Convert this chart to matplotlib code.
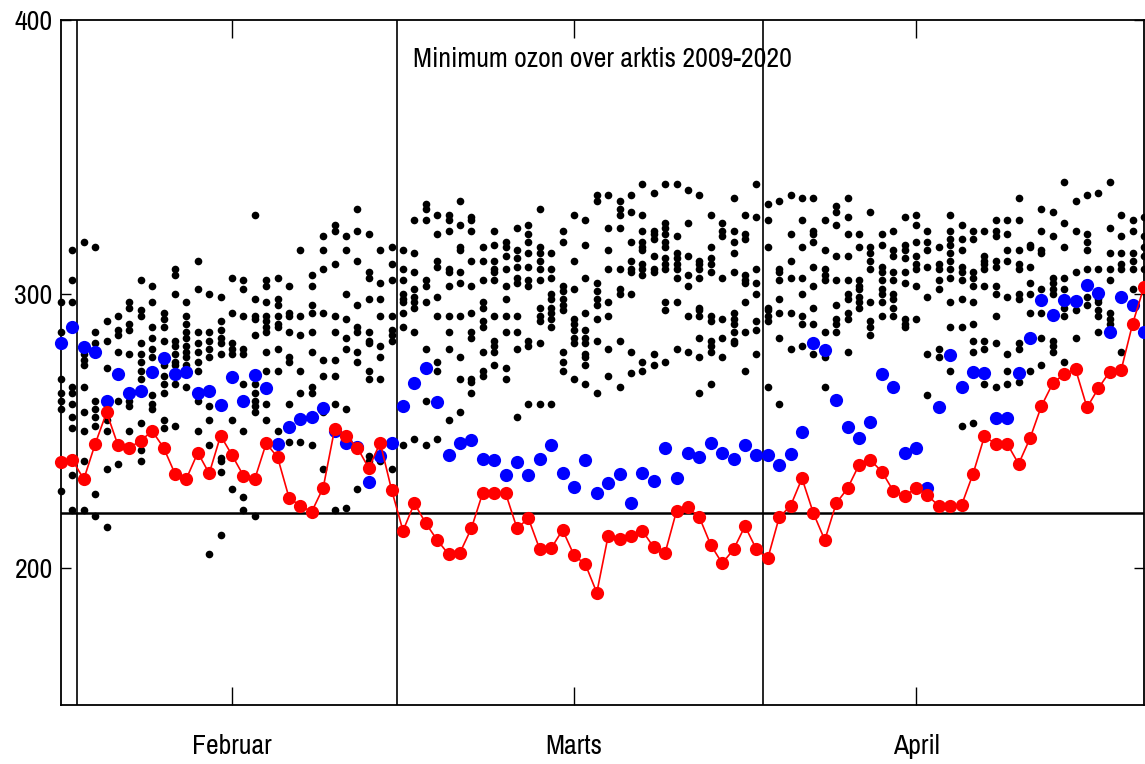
import matplotlib
matplotlib.use('Agg')
import matplotlib.pyplot as plt
from matplotlib import font_manager
import numpy as np

# pick a narrow face if one is installed (the labels in the original are squeezed)
fonts = font_manager.fontManager.ttflist
narrow = [f.name for f in fonts if 'Narrow' in f.name or 'Condensed' in f.name]
condensed_dejavu = any(f.name == 'DejaVu Sans' and f.stretch in ('condensed', 'semi-condensed')
                       for f in fonts)

# day index (0 = first day shown, ca. end of January)
days = np.arange(96)

# the two highlighted years
red_vals = [238.6, 239.4, 232.4, 245.3, 256.8, 244.8, 243.9, 246.5, 250.0, 243.9,
            234.4, 232.6, 242.1, 234.5, 248.3, 241.2, 233.7, 232.5, 245.5, 240.4,
            225.7, 222.6, 220.6, 229.3, 250.7, 248.3, 243.9, 236.4, 245.7, 228.5,
            213.6, 223.6, 216.3, 210.2, 205.0, 205.6, 214.5, 227.5, 227.5, 227.3,
            214.5, 218.1, 206.8, 207.2, 213.9, 204.7, 201.3, 191.0, 211.8, 210.5,
            211.8, 213.6, 207.5, 205.6, 220.9, 222.1, 218.5, 208.4, 201.7, 206.8,
            215.3, 206.8, 203.5, 218.5, 222.7, 232.7, 220.0, 210.2, 223.6, 229.1,
            237.6, 239.4, 235.2, 228.2, 226.3, 229.1, 226.6, 222.6, 222.6, 223.0,
            234.3, 248.0, 245.3, 245.3, 238.0, 247.3, 259.1, 267.4, 270.8, 272.5,
            258.6, 265.6, 271.7, 272.3, 289.1, 302.7]

blue_vals = [282.0, 288.0, 280.5, 279.0, 261.0, 270.8, 264.0, 264.6, 271.5, 276.8,
             270.8, 271.7, 264.0, 264.7, 259.5, 269.6, 261.0, 270.4, 265.6, 245.1,
             251.6, 254.3, 255.2, 258.3, 250.0, 245.7, 244.0, 231.5, 240.9, 245.5,
             259.2, 267.4, 273.1, 260.5, 241.2, 245.5, 246.7, 239.7, 239.4, 233.9,
             238.8, 233.9, 239.7, 244.9, 234.5, 229.4, 239.4, 227.5, 231.1, 234.3,
             223.6, 234.5, 231.9, 243.9, 232.7, 242.1, 240.4, 245.5, 242.1, 239.7,
             244.9, 241.2, 241.2, 237.6, 241.6, 249.8, 282.2, 279.6, 261.3, 251.6,
             247.3, 253.4, 270.8, 266.2, 242.1, 243.9, 229.1, 258.6, 277.7, 266.2,
             271.7, 271.0, 254.6, 254.6, 271.0, 283.8, 297.8, 292.3, 297.8, 297.4,
             303.3, 300.2, 286.0, 299.0, 296.0, 286.3]

# the other years, one list per day
other_years = [
    [297, 286, 269, 264, 261, 258, 228],
    [316, 305, 297, 266, 264, 260, 255, 251, 234, 221],
    [319, 278, 276, 274, 266, 257, 250, 239, 221],
    [317, 286, 282, 261, 258, 255, 252, 227, 219],
    [290, 283, 273, 254, 250, 236, 215],
    [292, 287, 285, 279, 261, 238],
    [297, 295, 289, 287, 278, 261, 259, 250],
    [305, 294, 292, 282, 278, 275, 272, 269, 253, 247, 243, 239],
    [303, 297, 288, 284, 280, 277, 263, 260, 258],
    [293, 291, 288, 283, 274, 270, 267, 264, 254, 251],
    [309, 307, 300, 283, 281, 278, 275, 274, 267, 252],
    [297, 292, 289, 286, 284, 281, 279, 277, 274, 266],
    [312, 302, 286, 282, 279, 275, 272, 261, 250],
    [300, 286, 283, 280, 277, 259, 254, 245, 205],
    [299, 290, 287, 284, 282, 278, 240, 239, 235, 212],
    [306, 293, 282, 280, 278, 254, 229],
    [305, 302, 292, 280, 278, 267, 250, 226, 221],
    [329, 298, 292, 291, 285, 267, 264, 261, 259, 257, 219],
    [305, 303, 297, 292, 290, 288, 286, 279, 272, 260, 254],
    [306, 298, 296, 292, 289, 288, 280, 272, 250],
    [303, 293, 292, 286, 277, 275, 260, 246],
    [316, 292, 285, 272, 264, 246],
    [307, 303, 296, 293, 286, 279, 266, 264, 245],
    [321, 316, 309, 293, 276, 270, 257, 236],
    [325, 323, 311, 292, 286, 276, 270, 260, 221],
    [321, 316, 300, 291, 284, 280, 258, 222],
    [331, 323, 312, 296, 288, 286, 279, 275, 229],
    [322, 308, 306, 298, 286, 283, 282, 272, 269, 241, 239],
    [316, 304, 298, 292, 281, 277, 269, 239],
    [317, 311, 305, 292, 287, 285, 283, 236],
    [316, 309, 305, 300, 298, 297, 293, 288, 245],
    [327, 315, 308, 302, 299, 297, 295, 286, 247],
    [333, 331, 327, 305, 303, 297, 280, 261, 245],
    [329, 322, 312, 310, 299, 292, 275, 272, 247],
    [329, 327, 323, 309, 308, 303, 292, 286, 280, 254],
    [334, 325, 317, 316, 308, 304, 292, 277, 269, 257],
    [328, 327, 323, 312, 303, 293, 286, 284, 269, 268, 264],
    [317, 312, 305, 297, 295, 290, 288, 279, 272, 270],
    [323, 318, 312, 309, 308, 305, 292, 283, 281, 279, 274],
    [319, 317, 314, 309, 303, 298, 292, 286, 273, 269],
    [324, 316, 313, 310, 306, 304, 292, 286, 280, 255],
    [325, 322, 319, 315, 310, 305, 303, 283, 281, 260],
    [331, 317, 315, 312, 309, 305, 295, 292, 290, 282, 260],
    [315, 309, 306, 300, 298, 295, 293, 291, 288, 260],
    [323, 319, 303, 301, 298, 296, 294, 279, 275, 272],
    [329, 312, 302, 291, 289, 287, 284, 282, 269],
    [327, 318, 306, 293, 287, 284, 282, 278, 277, 274, 267],
    [336, 334, 304, 301, 298, 296, 291, 283, 264],
    [336, 324, 316, 309, 297, 292, 280, 270],
    [334, 331, 329, 324, 309, 302, 300, 283, 266],
    [336, 330, 319, 312, 309, 308, 300, 279, 271],
    [340, 329, 323, 319, 317, 316, 311, 309, 307, 275, 272],
    [337, 323, 322, 320, 314, 309, 308, 278, 274],
    [340, 326, 324, 322, 319, 317, 313, 311, 309, 297, 294, 275],
    [340, 321, 315, 313, 311, 309, 306, 297, 280],
    [338, 326, 314, 307, 303, 292, 279],
    [336, 312, 311, 309, 306, 295, 294, 292, 284, 277, 264],
    [329, 317, 313, 311, 308, 292, 290, 283, 281, 279, 267],
    [326, 323, 321, 306, 291, 284, 277],
    [335, 323, 319, 315, 308, 293, 291, 289, 286, 283, 282],
    [329, 322, 320, 307, 305, 304, 297, 286, 272],
    [340, 328, 309, 304, 300, 290, 287, 278],
    [333, 327, 317, 295, 294, 292, 290, 266],
    [334, 309, 308, 305, 298, 293, 284, 260],
    [336, 322, 312, 306, 293, 280],
    [335, 327, 317, 306, 300, 292, 289, 281],
    [335, 323, 322, 319, 310, 303, 295, 289, 278],
    [327, 316, 309, 307, 305, 286, 277, 266],
    [332, 330, 325, 314, 305, 296, 291, 289, 286],
    [335, 328, 322, 314, 305, 300, 298, 293, 291, 279],
    [322, 317, 305, 303, 302, 299, 297, 295],
    [330, 317, 315, 312, 309, 297, 290, 288, 285],
    [322, 318, 310, 308, 305, 302, 300, 297, 292],
    [323, 316, 314, 308, 305, 300, 298, 295, 292],
    [328, 318, 316, 313, 308, 304, 291, 289, 288],
    [329, 325, 319, 314, 311, 309, 303, 291],
    [323, 319, 316, 310, 299, 278, 263],
    [317, 311, 309, 305, 302, 280, 277],
    [329, 323, 320, 318, 315, 312, 309, 306, 297, 288, 272],
    [325, 320, 316, 310, 308, 305, 298, 288, 252],
    [323, 320, 308, 306, 303, 297, 289, 283, 279, 253],
    [323, 314, 312, 311, 309, 303, 283, 280, 267],
    [327, 323, 321, 312, 310, 303, 300, 292, 282, 266],
    [327, 322, 316, 312, 299, 278, 272, 267],
    [335, 327, 316, 311, 309, 300, 298, 282, 280, 268],
    [318, 317, 310, 304, 300, 293, 272],
    [331, 323, 316, 315, 302, 293, 284, 274],
    [330, 321, 306, 304, 302, 300, 283, 281, 279],
    [341, 326, 317, 306, 302, 295, 292, 275],
    [334, 323, 308, 297, 294, 284],
    [336, 322, 319, 316, 309, 299, 296],
    [337, 309, 298, 297, 294, 292, 286],
    [341, 324, 315, 309, 305, 293, 291, 289],
    [329, 321, 315, 311, 309, 298, 279],
    [327, 323, 315, 312, 309, 302],
    [328, 321, 317, 314, 309],
]

month_ticks = [15, 45, 75]
month_labels = ['Februar', 'Marts', 'April']
month_lines = [1.4, 29.5, 61.6]
ref_level = 220

if narrow:
    plt.rcParams['font.family'] = [narrow[0], 'DejaVu Sans']
    fsize = 20
elif condensed_dejavu:
    plt.rcParams['font.family'] = ['DejaVu Sans']
    plt.rcParams['font.stretch'] = 'condensed'
    fsize = 17
else:
    plt.rcParams['font.family'] = ['DejaVu Sans']
    fsize = 15


fig = plt.figure(figsize=(11.45, 7.64), dpi=100)
ax = fig.add_axes([61 / 1145, 59 / 764, 1083 / 1145, 685 / 764])

# all other years as small black dots
xs = np.concatenate([[d] * len(v) for d, v in zip(days, other_years)])
ys = np.concatenate(other_years)
ax.plot(xs, ys, 'o', color='black', ms=5.5, mew=0, clip_on=False, zorder=3)

ax.plot(days, blue_vals, 'o', color='blue', ms=9.5, mew=0, clip_on=False, zorder=4)
ax.plot(days, red_vals, '-o', color='red', lw=1.2, ms=9.5, mew=0, clip_on=False, zorder=5)

ax.axhline(ref_level, color='black', lw=1.8, zorder=2)
for m in month_lines:
    ax.axvline(m, color='black', lw=1.2, zorder=2)

ax.set_xlim(0, 95)
ax.set_ylim(150, 400)
ax.set_xticks(month_ticks)
ax.set_xticklabels(month_labels)
ax.set_yticks([200, 300, 400])
ax.tick_params(axis='x', direction='in', length=13, width=1, top=True, pad=21, labelsize=fsize)
ax.tick_params(axis='y', direction='in', length=7, width=1, right=True, pad=6, labelsize=fsize)
for s in ax.spines.values():
    s.set_linewidth(1.3)

ax.text(0.5, 0.942, 'Minimum ozon over arktis 2009-2020', transform=ax.transAxes,
        ha='center', va='center', fontsize=fsize)

plt.savefig('out.png', dpi=100)
